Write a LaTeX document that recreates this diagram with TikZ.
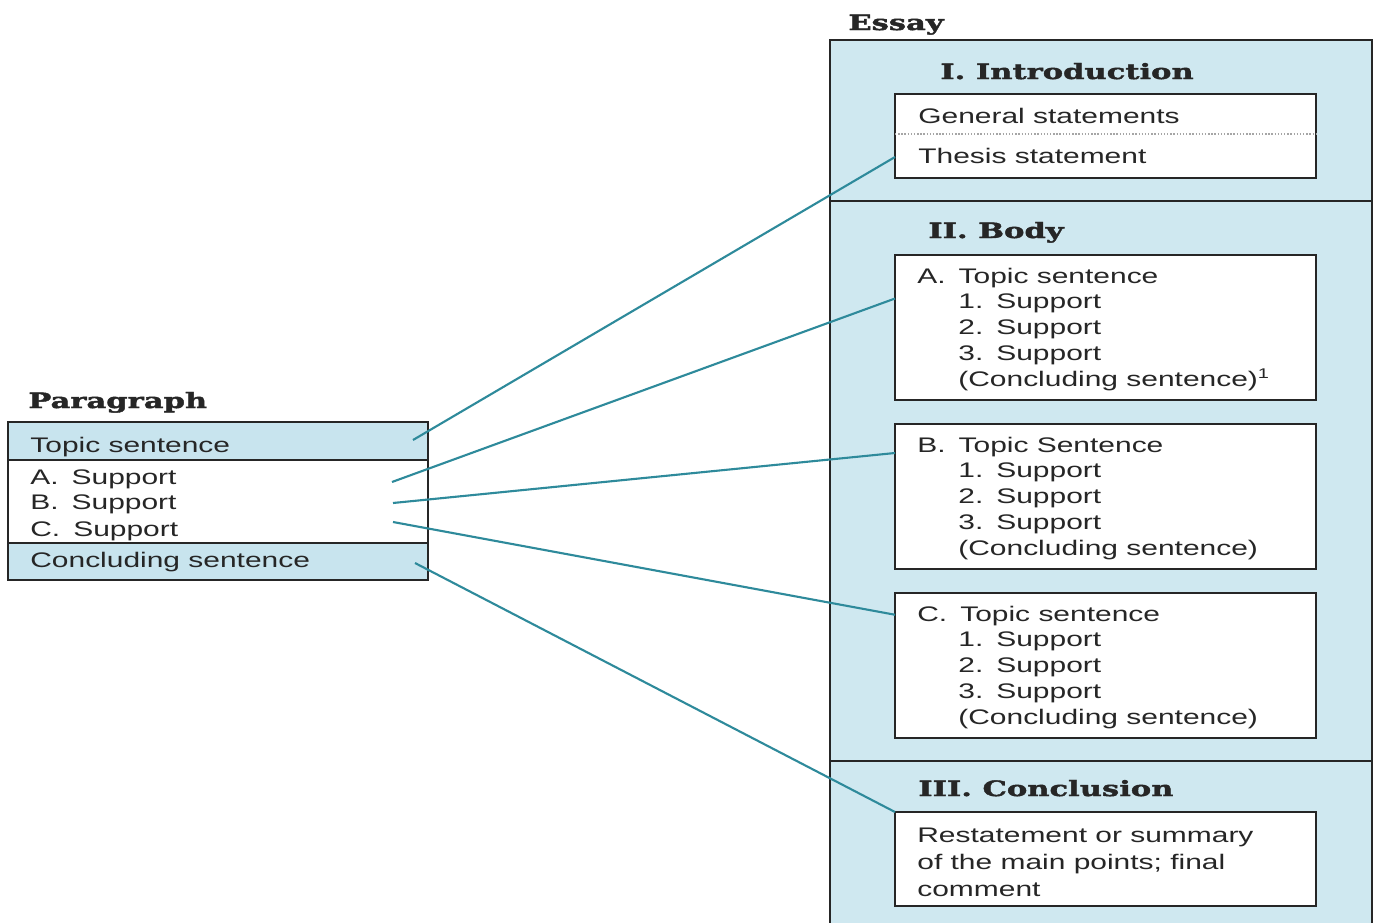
\documentclass[tikz,border=0pt]{standalone}
\usepackage{fontspec}
\setmainfont{Liberation Sans}[FakeStretch=1.42]
\newfontfamily\headfont{DejaVu Serif}[FakeStretch=1.45, FakeBold=2]
\usetikzlibrary{calc}
\definecolor{rowblue}{HTML}{C8E4EE}
\definecolor{essayblue}{HTML}{CFE8F0}
\definecolor{linkteal}{HTML}{2E8A9B}
\definecolor{ink}{HTML}{262626}
\begin{document}
\begin{tikzpicture}[frame/.style={draw=ink, line width=1.1pt},
    box/.style={frame, fill=white, inner sep=0pt, outer sep=0pt, anchor=north west, minimum width=8.42cm},
    row/.style={frame, inner sep=0pt, outer sep=0pt, anchor=north west, minimum width=8.4cm},
    txt/.style={anchor=base west, inner sep=0pt, text=ink, font=\fontsize{12}{14.5}\selectfont},
    head/.style={anchor=base west, inner sep=0pt, text=ink, font=\headfont\bfseries\fontsize{12}{14.5}\selectfont},
    link/.style={draw=linkteal, line width=1.2pt}]
  \path[use as bounding box, fill=white] (0,0) rectangle (27.56,-18.44);

  % paragraph
  \node[head] (paragraph) at (0.56,-8.16) {Paragraph};
  \node[row, fill=rowblue, minimum height=0.76cm] (ptopic) at (0.16,-8.44) {};
  \node[row, fill=white, minimum height=1.66cm] (pmid) at (0.16,-9.2) {};
  \node[row, fill=rowblue, minimum height=0.74cm] (pend) at (0.16,-10.86) {};
  \node[txt] (ptopic-t) at (0.6,-9.04) {Topic sentence};
  \foreach \lab/\y in {A/9.68, B/10.18, C/10.72}
    \node[txt] (p\lab) at (0.6,-\y) {\lab.\hspace{.26cm}Support};
  \node[txt] (pend-t) at (0.6,-11.34) {Concluding sentence};

  % essay
  \node[frame, fill=essayblue, inner sep=0pt, outer sep=0pt, anchor=north west, minimum width=10.84cm, minimum height=18cm] (essay) at (16.6,-0.8) {};
  \node[head] (essay-t) at (16.96,-0.6) {Essay};
  \draw[frame] (16.6,-4.02) -- (27.44,-4.02);
  \draw[frame] (16.6,-15.22) -- (27.44,-15.22);

  \node[head] (intro-h) at (18.8,-1.58) {I.\ Introduction};
  \node[box, minimum height=1.68cm] (intro) at (17.9,-1.88) {};
  \draw[gray!70, densely dotted, line width=0.8pt] (17.9,-2.68) -- (26.32,-2.68);
  \node[txt] (general) at (18.36,-2.46) {General statements};
  \node[txt] (thesis) at (18.36,-3.26) {Thesis statement};

  \node[head] (body-h) at (18.56,-4.76) {II.\ Body};
  \foreach \lab/\top/\topic/\fnote in {A/5.1/Topic sentence/\textsuperscript{1}, B/8.48/Topic Sentence/{}, C/11.86/Topic sentence/{}} {
    \node[box, minimum height=2.9cm] (body\lab) at (17.9,-\top) {};
    \node[txt] (body\lab-t) at (18.34,{-\top-0.56}) {\lab.\hspace{.26cm}\topic};
    \foreach \n in {1,2,3}
      \node[txt] (body\lab-\n) at (19.16,{-\top-0.56-0.516*\n}) {\n.\hspace{.26cm}Support};
    \node[txt] (body\lab-c) at (19.16,{-\top-2.62}) {(Concluding sentence)\fnote};
  }

  \node[head] (concl-h) at (18.36,-15.92) {III.\ Conclusion};
  \node[box, minimum height=1.88cm] (concl) at (17.9,-16.24) {};
  \node[txt] (concl-1) at (18.34,-16.84) {Restatement or summary};
  \node[txt] (concl-2) at (18.34,-17.38) {of the main points; final};
  \node[txt] (concl-3) at (18.34,-17.92) {comment};

  % connectors
  \coordinate (fromTopic) at (8.26,-8.8);
  \coordinate (fromA) at (7.84,-9.64);
  \coordinate (fromB) at (7.86,-10.06);
  \coordinate (fromC) at (7.86,-10.44);
  \coordinate (fromEnd) at (8.3,-11.26);
  \draw[link] (fromTopic) -- ($(intro.north west)!0.75!(intro.south west)$);
  \draw[link] (fromA) -- ($(bodyA.north west)!0.3!(bodyA.south west)$);
  \draw[link] (fromB) -- ($(bodyB.north west)!0.2!(bodyB.south west)$);
  \draw[link] (fromC) -- ($(bodyC.north west)!0.15!(bodyC.south west)$);
  \draw[link] (fromEnd) -- (concl.north west);
\end{tikzpicture}
\end{document}
